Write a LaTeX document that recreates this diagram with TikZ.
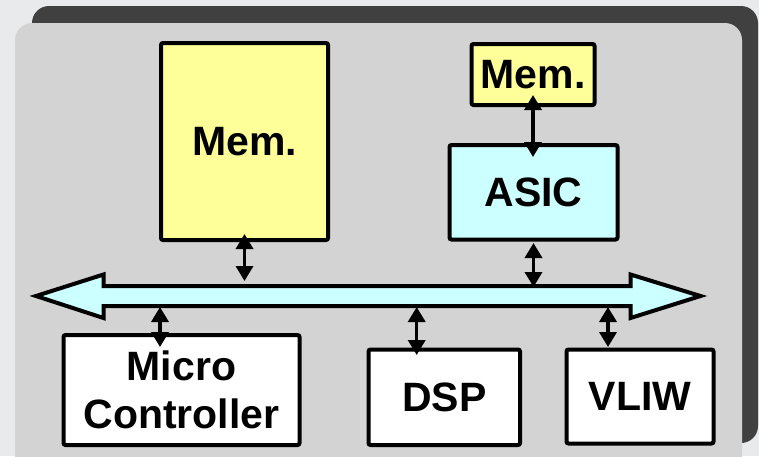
\documentclass[tikz,border=0pt]{standalone}
\usepackage{fontspec}
\setmainfont{Liberation Sans}
\usetikzlibrary{arrows.meta}
\definecolor{bgcol}{HTML}{E9EAEC}
\definecolor{shadowcol}{HTML}{404040}
\definecolor{panelcol}{HTML}{D3D3D3}
\definecolor{memcol}{HTML}{FFFF99}
\definecolor{buscol}{HTML}{CCFFFF}
\tikzset{
  block/.style={draw=black, line width=4pt, rounded corners=2pt, inner sep=0pt,
    outer sep=0pt, align=center, font=\fontsize{41}{48}\selectfont\bfseries},
  link/.style={line width=3.5pt,
    {Triangle[width=17pt,length=15pt]}-{Triangle[width=17pt,length=15pt]}},
  busline/.style={line width=4pt, fill=buscol, line join=miter},
}
\begin{document}
\begin{tikzpicture}[x=1pt,y=-1pt]
\useasboundingbox (0,0) rectangle (759,456);
% backdrop, shadow and panel
\fill[bgcol] (0,0) rectangle (759,456);
\fill[shadowcol, rounded corners=17pt] (32,6) rectangle (758,443);
\fill[panelcol, rounded corners=17pt] (15,23) rectangle (742,475);

% system bus
\draw[busline] (36,296) -- (103.5,274.5) -- (103.5,286) -- (630.5,286)
  -- (630.5,274.5) -- (700.5,296) -- (630.5,318) -- (630.5,306)
  -- (103.5,306) -- (103.5,318) -- cycle;
\coordinate (bustop) at (0,286);
\coordinate (busbot) at (0,306);

% blocks
\node[block, fill=memcol, minimum width=167pt, minimum height=197pt] (memA) at (244.5,141.5) {\raisebox{-6pt}{Mem.}};
\node[block, fill=memcol, minimum width=123pt, minimum height=61pt] (memB) at (533,74.5) {Mem.};
\node[block, fill=buscol, minimum width=168pt, minimum height=94.5pt] (asic) at (533.5,192.25) {\raisebox{-3pt}{ASIC}};
\node[block, fill=white, minimum width=236pt, minimum height=110pt] (micro) at (181.5,390) {Micro\\Controller};
\node[block, fill=white, minimum width=151.5pt, minimum height=95.5pt] (dsp) at (444.25,397.25) {DSP};
\node[block, fill=white, minimum width=147pt, minimum height=94pt] (vliw) at (640,396.5) {VLIW};

% bidirectional links
\draw[link] ([yshift=6pt]memA.south) -- ([yshift=5pt]memA.south |- bustop);
\draw[link] ([yshift=10pt]memB.south) -- ([yshift=-12pt]memB.south |- asic.north);
\draw[link] ([yshift=-3.5pt]asic.south) -- ([yshift=-1pt]asic.south |- bustop);
\draw[link] ([yshift=-1pt]160,0 |- busbot) -- ([yshift=-12pt]160,0 |- micro.north);
\draw[link] ([yshift=-1pt]416.7,0 |- busbot) -- ([yshift=-5.5pt]416.7,0 |- dsp.north);
\draw[link] ([yshift=-1pt]608,0 |- busbot) -- ([yshift=2.5pt]608,0 |- vliw.north);
\end{tikzpicture}
\end{document}
